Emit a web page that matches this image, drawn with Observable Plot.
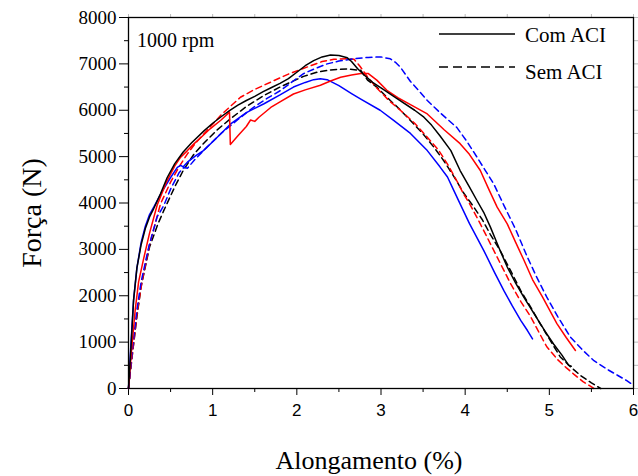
<!DOCTYPE html>
<html><head><meta charset="utf-8">
<script src="https://cdn.jsdelivr.net/npm/d3@7"></script>
<script src="https://cdn.jsdelivr.net/npm/@observablehq/plot@0.6"></script>
<style>
body{margin:0;background:#fff}
#chart svg{display:block;background:#fff}
</style></head><body><div id="chart"></div>
<script>
const xTicks = [0, 1, 2, 3, 4, 5, 6];
const xMinor = [0.5, 1.5, 2.5, 3.5, 4.5, 5.5];
const yTicks = [0, 1000, 2000, 3000, 4000, 5000, 6000, 7000, 8000];
const yMinor = [500, 1500, 2500, 3500, 4500, 5500, 6500, 7500];
const xTitle = "Alongamento (%)";
const yTitle = "Força (N)";
const annotation = "1000 rpm";
const legendLabels = ["Com ACI", "Sem ACI"];

// Com ACI (solid)
const comBlack = [[0,0],[0.03,900],[0.06,1900],[0.1,2600],[0.15,3100],[0.2,3450],[0.25,3700],[0.3,3880],[0.38,4200],[0.46,4550],[0.55,4850],[0.65,5100],[0.75,5300],[0.9,5560],[1.0,5720],[1.1,5860],[1.2,5990],[1.3,6110],[1.4,6210],[1.5,6300],[1.6,6400],[1.7,6490],[1.8,6580],[1.9,6680],[2.0,6820],[2.1,6960],[2.2,7070],[2.3,7150],[2.4,7190],[2.5,7180],[2.6,7130],[2.65,7050],[2.72,6900],[2.8,6760],[2.9,6600],[3.0,6480],[3.2,6240],[3.4,6000],[3.51,5850],[3.6,5680],[3.7,5450],[3.83,5130],[3.94,4700],[4.05,4350],[4.14,4054],[4.22,3800],[4.3,3480],[4.4,3040],[4.5,2620],[4.6,2270],[4.7,1960],[4.82,1610],[4.95,1230],[5.05,960],[5.15,720],[5.23,500],[5.26,480]];
const comRed = [[0,0],[0.04,900],[0.08,1700],[0.12,2300],[0.18,2800],[0.25,3350],[0.34,3950],[0.45,4450],[0.55,4800],[0.62,4990],[0.7,5130],[0.78,5280],[0.87,5430],[0.97,5600],[1.1,5790],[1.2,5960],[1.21,5260],[1.3,5450],[1.4,5650],[1.45,5790],[1.5,5760],[1.55,5850],[1.69,6060],[1.8,6180],[1.96,6350],[2.1,6440],[2.28,6540],[2.4,6630],[2.52,6710],[2.65,6760],[2.76,6790],[2.85,6790],[2.95,6650],[3.07,6430],[3.2,6270],[3.35,6120],[3.55,5920],[3.75,5580],[3.94,5280],[4.05,5050],[4.18,4700],[4.28,4300],[4.38,3910],[4.5,3550],[4.6,3150],[4.7,2760],[4.8,2350],[4.92,1970],[5.0,1700],[5.09,1400],[5.2,1100],[5.31,820]];
const comBlue = [[0,0],[0.03,1000],[0.06,1900],[0.1,2600],[0.15,3150],[0.2,3500],[0.25,3750],[0.3,3910],[0.4,4250],[0.5,4550],[0.58,4770],[0.62,4810],[0.65,4780],[0.7,4880],[0.8,5020],[0.89,5130],[1.0,5320],[1.1,5500],[1.21,5700],[1.4,5950],[1.61,6140],[1.8,6330],[1.96,6500],[2.1,6600],[2.2,6660],[2.28,6680],[2.36,6660],[2.5,6530],[2.65,6360],[2.76,6240],[2.99,6000],[3.15,5780],[3.35,5500],[3.55,5130],[3.7,4780],[3.79,4560],[3.87,4250],[3.94,3980],[4.05,3560],[4.22,2980],[4.35,2500],[4.46,2110],[4.56,1780],[4.66,1470],[4.74,1250],[4.8,1070]];

// Sem ACI (dashed)
const semBlack = [[0,0],[0.05,800],[0.1,1550],[0.15,2200],[0.25,3050],[0.35,3550],[0.42,3840],[0.55,4350],[0.65,4700],[0.78,5060],[0.9,5300],[1.05,5570],[1.2,5800],[1.4,6080],[1.61,6320],[1.8,6500],[1.92,6600],[2.08,6730],[2.24,6820],[2.4,6870],[2.6,6890],[2.76,6860],[2.84,6650],[2.95,6500],[3.11,6210],[3.2,6060],[3.35,5780],[3.5,5490],[3.63,5200],[3.75,4900],[3.87,4560],[3.98,4220],[4.1,3920],[4.2,3650],[4.3,3320],[4.42,2960],[4.54,2540],[4.66,2110],[4.78,1750],[4.89,1400],[5.0,1070],[5.13,680],[5.25,470],[5.37,280],[5.5,120],[5.61,0]];
const semRed = [[0,0],[0.05,800],[0.1,1600],[0.16,2300],[0.25,3100],[0.38,3980],[0.5,4450],[0.6,4780],[0.7,5060],[0.8,5300],[0.93,5560],[1.1,5900],[1.33,6280],[1.5,6450],[1.73,6640],[1.9,6780],[2.12,6930],[2.3,7050],[2.44,7100],[2.6,7110],[2.68,7100],[2.75,6950],[2.84,6720],[2.95,6480],[3.1,6200],[3.23,6000],[3.4,5720],[3.55,5420],[3.68,5150],[3.79,4840],[3.9,4480],[3.98,4200],[4.06,3960],[4.18,3550],[4.3,3120],[4.42,2690],[4.54,2260],[4.66,1880],[4.78,1540],[4.88,1200],[4.97,900],[5.1,620],[5.2,450],[5.29,310],[5.4,150],[5.53,0]];
const semBlue = [[0,0],[0.05,900],[0.1,1700],[0.15,2300],[0.24,3050],[0.34,3700],[0.42,3950],[0.5,4300],[0.6,4650],[0.66,4770],[0.7,4750],[0.8,4960],[0.93,5200],[1.1,5500],[1.3,5800],[1.49,6070],[1.65,6260],[1.81,6430],[1.95,6620],[2.08,6790],[2.22,6900],[2.36,7000],[2.5,7060],[2.68,7110],[2.85,7140],[3.0,7150],[3.11,7110],[3.18,7020],[3.23,6930],[3.35,6620],[3.45,6420],[3.55,6210],[3.7,5950],[3.9,5630],[4.02,5330],[4.14,4990],[4.24,4700],[4.34,4410],[4.46,3950],[4.6,3430],[4.74,2830],[4.85,2400],[4.97,1970],[5.1,1550],[5.25,1110],[5.4,820],[5.53,600],[5.7,400],[5.92,170],[6.0,70]];

const series = [
  {data: semBlack, color: "#000000", dashed: true},
  {data: semRed, color: "#ff0000", dashed: true},
  {data: semBlue, color: "#0000ff", dashed: true},
  {data: comBlue, color: "#0000ff", dashed: false},
  {data: comRed, color: "#ff0000", dashed: false},
  {data: comBlack, color: "#000000", dashed: false}
];

const serif = "Liberation Serif";
const sans = "Liberation Sans";

const lineMarks = series.map(s => Plot.line(s.data, {
  x: d => d[0], y: d => d[1], stroke: s.color, strokeWidth: 1.5,
  strokeDasharray: s.dashed ? "6,4" : null, curve: "linear"
}));

const chart = Plot.plot({
  width: 638, height: 476,
  marginLeft: 128, marginRight: 5, marginTop: 17, marginBottom: 88,
  x: {domain: [0, 6], label: null},
  y: {domain: [0, 8000], label: null},
  marks: [
    Plot.axisX([...xTicks, ...xMinor], {anchor: "top", tickSize: 4, fill: "none", stroke: "#bbb", label: null}),
    Plot.axisY([...yTicks, ...yMinor], {anchor: "right", tickSize: 4, fill: "none", stroke: "#bbb", label: null}),
    Plot.axisX(xTicks, {anchor: "bottom", tickSize: 7, tickPadding: 8, fontSize: 17, fontFamily: sans, tickFormat: d3.format("d"), label: null}),
    Plot.axisX(xMinor, {anchor: "bottom", tickSize: 4, fill: "none", label: null}),
    Plot.axisY(yTicks, {anchor: "left", tickSize: 9, tickPadding: 3, fontSize: 19, fontFamily: serif, tickFormat: d3.format("d"), label: null}),
    Plot.axisY(yMinor, {anchor: "left", tickSize: 4, fill: "none", label: null}),
    ...lineMarks,
    Plot.frame({stroke: "#000", strokeWidth: 1.3})
  ]
});

document.getElementById("chart").appendChild(chart);

const svg = d3.select(chart);
svg.append("text").text(xTitle)
  .attr("x", 369).attr("y", 469).attr("text-anchor", "middle")
  .attr("font-family", serif).attr("font-size", 26).attr("fill", "#000");
svg.append("text").text(yTitle)
  .attr("transform", "translate(41,213) rotate(-90)").attr("text-anchor", "middle")
  .attr("font-family", serif).attr("font-size", 28).attr("fill", "#000");
svg.append("text").text(annotation)
  .attr("x", 137).attr("y", 47).attr("text-anchor", "start")
  .attr("font-family", serif).attr("font-size", 20).attr("fill", "#000");

const leg = svg.append("g");
leg.append("line").attr("x1", 439).attr("x2", 515).attr("y1", 34).attr("y2", 34)
  .attr("stroke", "#000").attr("stroke-width", 1.6);
leg.append("line").attr("x1", 439).attr("x2", 515).attr("y1", 67).attr("y2", 67)
  .attr("stroke", "#000").attr("stroke-width", 1.6).attr("stroke-dasharray", "9,5");
leg.append("text").text(legendLabels[0]).attr("x", 525).attr("y", 42).attr("text-anchor", "start")
  .attr("font-family", serif).attr("font-size", 21).attr("fill", "#000");
leg.append("text").text(legendLabels[1]).attr("x", 525).attr("y", 79).attr("text-anchor", "start")
  .attr("font-family", serif).attr("font-size", 21).attr("fill", "#000");
</script></body></html>
